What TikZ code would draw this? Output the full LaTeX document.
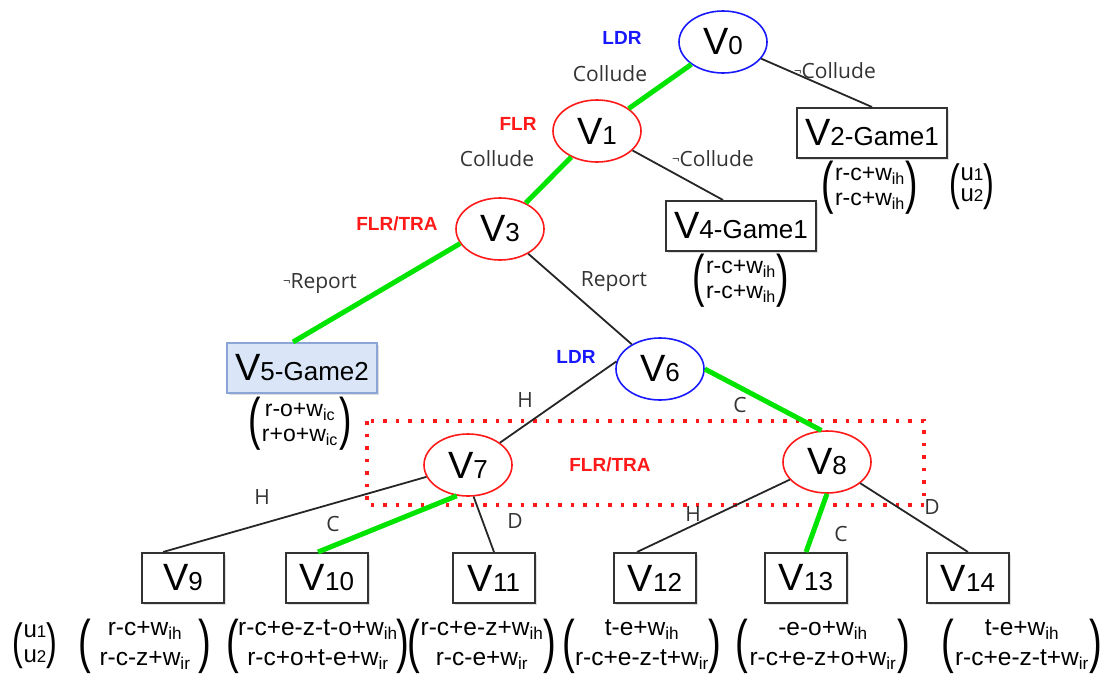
\documentclass[tikz,border=0pt]{standalone}
\usepackage{fontspec}
\setmainfont{Liberation Sans}
\newfontfamily\actfont{Open Sans}
\usetikzlibrary{shapes.geometric,shadows}

\definecolor{chosen}{RGB}{0,228,0}
\definecolor{ldrblue}{RGB}{25,25,255}
\definecolor{flrred}{RGB}{255,25,25}
\definecolor{gamefill}{RGB}{218,230,248}
\definecolor{gameline}{RGB}{140,165,215}

\newcommand{\vname}[1]{{\fontsize{38}{38}\selectfont V}{\fontsize{26}{26}\selectfont #1}}
\newcommand{\wsub}[1]{w\textsubscript{#1}}
\newcommand{\bigp}[2]{\vcenter{\hbox{\scalebox{0.85}[1.3]{\fontsize{#1}{#1}\selectfont #2}}}}
% pad, row gap, paren size, two rows
\newcommand{\payrows}[5]{$\bigp{#3}{(}\vcenter{\hbox{\begin{tabular}{@{\hspace{#1}}c@{\hspace{#1}}}#4\\[#2]#5\end{tabular}}}\bigp{#3}{)}$}
\newcommand{\payoff}[3][1pt]{\payrows{#1}{1pt}{44}{#2}{#3}}
\newcommand{\leafpayoff}[3][1pt]{\payrows{#1}{6pt}{45}{#2}{#3}}
\newcommand{\uvec}[1]{$\bigp{38}{(}\vcenter{\hbox{\fontsize{24}{21}\selectfont\begin{tabular}{@{}c@{}}u{\fontsize{17}{17}\selectfont 1}\\[#1]u{\fontsize{17}{17}\selectfont 2}\end{tabular}}}\bigp{38}{)}$}

\begin{document}
\begin{tikzpicture}[x=1pt,y=-1pt,
  decision/.style={ellipse,draw,line width=1.6pt,minimum width=88pt,minimum height=62pt,inner sep=0pt},
  ldr node/.style={decision,draw=ldrblue},
  flr node/.style={decision,draw=flrred},
  leaf/.style={rectangle,draw=black!80,line width=2pt,fill=white,inner sep=0pt,
    drop shadow={opacity=0.25,shadow xshift=2pt,shadow yshift=-2pt}},
  game node/.style={leaf,minimum width=150pt,minimum height=50pt},
  end node/.style={leaf,minimum width=82pt,minimum height=50pt},
  chosen edge/.style={draw=chosen,line width=5pt},
  other edge/.style={draw=black!85,line width=1.8pt},
  role/.style={font=\fontsize{19}{19}\selectfont\bfseries},
  act/.style={font=\actfont\fontsize{21}{21}\selectfont,text=black!80},
  pay/.style={font=\fontsize{23}{24}\selectfont,inner sep=0pt},
  leaf pay/.style={font=\fontsize{24.5}{24}\selectfont,inner sep=0pt}]

  \useasboundingbox (0,0) rectangle (1120,686);

  % stage box round V7 and V8
  \draw[flrred,line width=3.5pt,dash pattern=on 3.5pt off 9pt] (367,421) rectangle (924,505);

  \node[ldr node] (v0) at (723,42) {\vname{0}};
  \node[flr node] (v1) at (597,131) {\vname{1}};
  \node[game node] (v2) at (872,133) {\vname{2-Game1}};
  \node[flr node] (v3) at (500,229) {\vname{3}};
  \node[game node] (v4) at (741,226) {\vname{4-Game1}};
  \node[game node,fill=gamefill,draw=gameline] (v5) at (302,368) {\vname{5-Game2}};
  \node[ldr node] (v6) at (660,369) {\vname{6}};
  \node[flr node] (v7) at (468,465) {\vname{7}};
  \node[flr node] (v8) at (827,462) {\vname{8}};
  \node[end node] (v9) at (183,578) {\vname{9}};
  \node[end node] (v10) at (327,578) {\vname{10}};
  \node[end node] (v11) at (494,578) {\vname{11}};
  \node[end node] (v12) at (655,578) {\vname{12}};
  \node[end node] (v13) at (806,578) {\vname{13}};
  \node[end node] (v14) at (968,578) {\vname{14}};

  % players
  \node[role,text=ldrblue] (p0) at (622,38) {LDR};
  \node[role,text=flrred] (p1) at (518,124) {FLR};
  \node[role,text=flrred] (p3) at (397,224) {FLR/TRA};
  \node[role,text=ldrblue] (p6) at (576,357) {LDR};
  \node[role,text=flrred] (p78) at (610,465) {FLR/TRA};

  % payoffs
  \node[pay] (u2) at (870,188) {\payoff{r-c+\wsub{ih}}{r-c+\wsub{ih}}};
  \node[pay] (uk2) at (972,187) {\uvec{0pt}};
  \node[pay] (u4) at (741,281) {\payoff{r-c+\wsub{ih}}{r-c+\wsub{ih}}};
  \node[pay] (u5) at (300,424) {\payoff{r-o+\wsub{ic}}{r+o+\wsub{ic}}};
  \node[leaf pay] (uk9) at (35,646) {\uvec{4pt}};
  \node[leaf pay] (u9) at (145,646) {\leafpayoff[8pt]{r-c+\wsub{ih}}{r-c-z+\wsub{ir}}};
  \node[leaf pay] (u10) at (318,646) {\leafpayoff[-1pt]{r-c+e-z-t-o+\wsub{ih}}{r-c+o+t-e+\wsub{ir}}};
  \node[leaf pay] (u11) at (482,646) {\leafpayoff[0pt]{r-c+e-z+\wsub{ih}}{r-c-e+\wsub{ir}}};
  \node[leaf pay] (u12) at (642,646) {\leafpayoff[0pt]{t-e+\wsub{ih}}{r-c+e-z-t+\wsub{ir}}};
  \node[leaf pay] (u13) at (823,646) {\leafpayoff{-e-o+\wsub{ih}}{r-c+e-z+o+\wsub{ir}}};
  \node[leaf pay] (u14) at (1022,646) {\leafpayoff{t-e+\wsub{ih}}{r-c+e-z-t+\wsub{ir}}};

  \path
    (v0) edge[chosen edge] (v1)
    (v0) edge[other edge] (v2.north)
    (v1) edge[chosen edge] (v3)
    (v1) edge[other edge] ([xshift=-18pt]v4.north)
    (v3.200) edge[chosen edge] ([xshift=-9pt]v5.north)
    (v3) edge[other edge] (v6)
    (v6.170) edge[other edge] (v7)
    (v6.east) edge[chosen edge] (v8.100)
    (v7) edge[other edge] ([xshift=-20pt]v9.north)
    (v7.250) edge[chosen edge] ([xshift=-9pt]v10.north)
    (v7.280) edge[other edge] (v11.north)
    (v8) edge[other edge] ([xshift=-18pt]v12.north)
    (v8.south) edge[chosen edge] (v13.north)
    (v8) edge[other edge] (v14.north);

  % actions
  \node[act] (a01) at (610,74) {Collude};
  \node[act] (a02) at (835,71) {{\fontsize{13}{13}\selectfont\raisebox{3pt}{¬}}Collude};
  \node[act] (a13) at (497,159) {Collude};
  \node[act] (a14) at (713,159) {{\fontsize{13}{13}\selectfont\raisebox{3pt}{¬}}Collude};
  \node[act] (a35) at (320,284) {{\fontsize{13}{13}\selectfont\raisebox{3pt}{¬}}Report};
  \node[act] (a36) at (614,282) {Report};
  \node[act] (a67) at (525,400) {H};
  \node[act] (a68) at (740,405) {C};
  \node[act] (a79) at (262,497) {H};
  \node[act] (a710) at (333,524) {C};
  \node[act] (a711) at (515,521) {D};
  \node[act] (a812) at (693,514) {H};
  \node[act] (a813) at (841,534) {C};
  \node[act] (a814) at (932,507) {D};
\end{tikzpicture}
\end{document}
